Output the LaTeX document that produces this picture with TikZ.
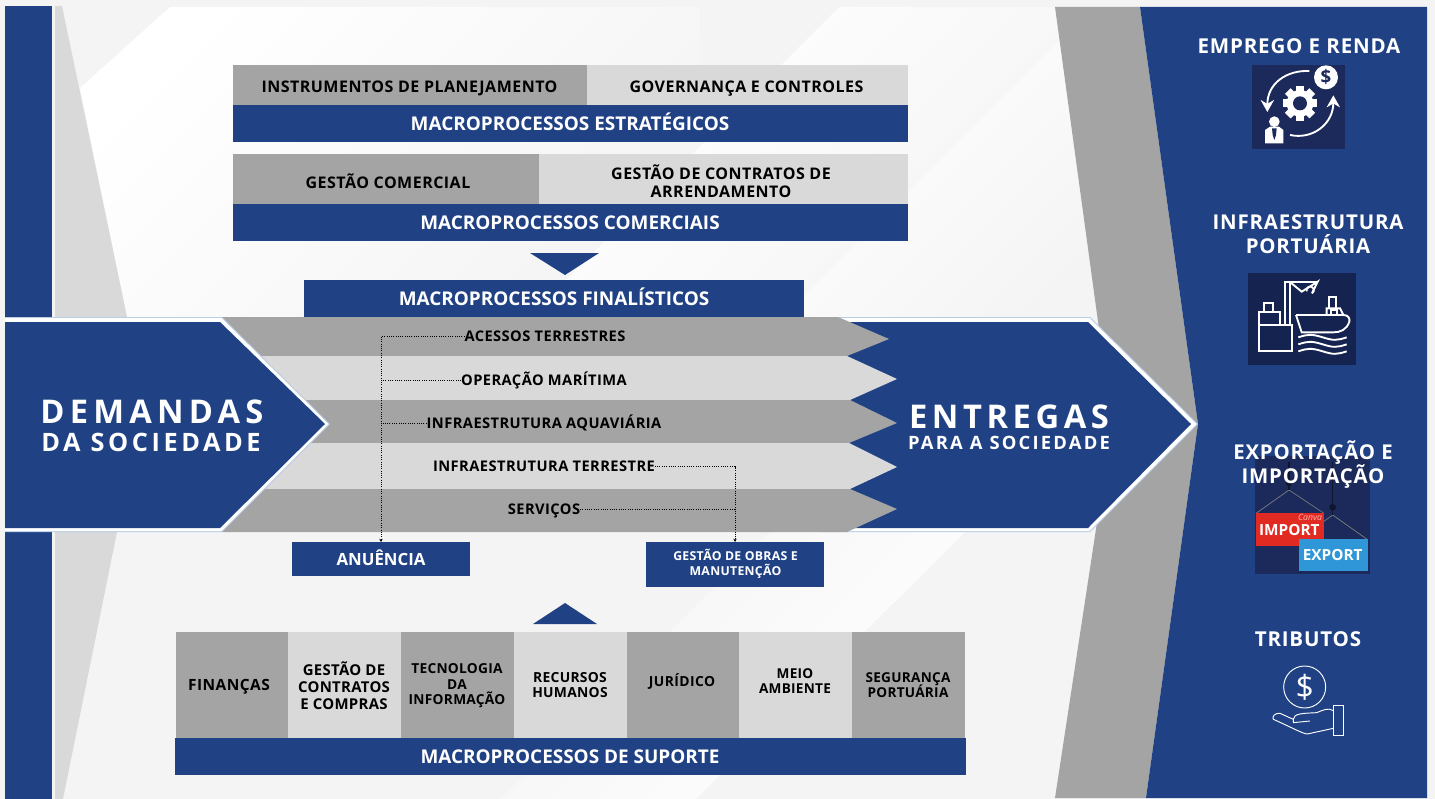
\documentclass[tikz,border=0pt]{standalone}
\usepackage{fontspec}
\setmainfont{Open Sans}
\usetikzlibrary{arrows.meta,calc}
\definecolor{navy}{HTML}{204284}
\definecolor{gA}{HTML}{A4A4A4}
\definecolor{gB}{HTML}{D9D9D9}
\definecolor{bgc}{HTML}{F4F4F4}
\definecolor{edgeb}{HTML}{B9CDE5}
\definecolor{iconA}{HTML}{1B2A5A}
\definecolor{iconB}{HTML}{152350}
\definecolor{redbox}{HTML}{E12A22}
\definecolor{bluebox}{HTML}{2F97D8}
\newcommand\fnt[2]{\fontsize{#1pt}{#1pt}\selectfont\addfontfeature{LetterSpace=#2}\bfseries\lineskiplimit=-20pt\relax}
\newcommand\bx[6]{% name x0 y0 x1 y1 style
  \pgfmathsetmacro\bw{(#4-#2)*0.75}\pgfmathsetmacro\bh{(#5-#3)*0.75}
  \node[#6,minimum width=\bw pt,minimum height=\bh pt] (#1) at ({(#2+#4)/2},{(#3+#5)/2}) {};}
\tikzset{
  x=0.75pt,y=-0.75pt,
  boxstyle/.style={inner sep=0pt,outer sep=0pt,rectangle},
  navybox/.style={boxstyle,fill=navy},
  darkbox/.style={boxstyle,fill=gA},
  lightbox/.style={boxstyle,fill=gB},
  lab/.style={inner sep=0pt,outer sep=0pt,align=center,text height=.714em,text depth=0pt,yshift=-1.1pt},
  mlab/.style={inner sep=0pt,outer sep=0pt,align=center},
  head/.style={lab,text=white,font=\fnt{14.2}{0},yshift=-0.5pt},
  dk/.style={lab,text=black,font=\fnt{12}{3}},
  strip/.style={lab,text=black,font=\fnt{11}{3},yshift=0.7pt},
  side/.style={text=white,font=\fnt{15.3}{4}},
  link/.style={black,line width=0.7pt,densely dotted},
  wire/.style={white,line width=1.4pt},
  thinwire/.style={white,line width=0.7pt},
  sheen/.style={left color=white,middle color=bgc,right color=bgc,shading angle=45},
}
\begin{document}
\begin{tikzpicture}
\useasboundingbox (0,0) rectangle (1435,799);
\fill[bgc] (0,0) rectangle (1435,799);
% sheens
\shade[sheen] (80,88)--(170,7)--(700,7)--(700,317)--(127,317)--cycle;
\shade[sheen] (694,152)--(839,7)--(1093,7)--(1093,317)--(529,317)--cycle;
\shade[sheen] (1093,7)--(1140,7)--(1140,317)--(783,317)--cycle;
\shade[left color=bgc,middle color=bgc,right color=white,shading angle=45] (500,799)--(770,532)--(965,532)--(696,799)--cycle;
% side structure
\fill[navy] (5,6) rectangle (52,799);
\fill[gB] (55,6)--(62,6)--(127,317)--(55,317)--cycle;
\fill[gB] (55,532)--(117,532)--(63,799)--(55,799)--cycle;
\fill[gA] (1055,7)--(1140,7)--(1198,424)--(1146,798)--(1055,798)--(1112,424)--cycle;
\fill[navy] (1140,7)--(1427,7)--(1427,798)--(1146,798)--(1198,424)--cycle;
% entregas chevron
\fill[edgeb] (820,317)--(1090,317)--(1198,424)--(1090,532)--(820,532)--cycle;
\fill[white] (820,318)--(1089.5,318)--(1196.5,424)--(1089.5,531)--(820,531)--cycle;
\fill[navy] (820,322)--(1088,322)--(1191,424)--(1088,528)--(820,528)--cycle;
% stripes
\fill[gA] (222,317)--(838,317)--(889,339)--(847,356)--(222,356)--cycle;
\fill[gB] (222,356)--(847,356)--(897,379)--(850,400)--(222,400)--cycle;
\fill[gA] (222,400)--(850,400)--(897,423)--(849,443)--(222,443)--cycle;
\fill[gB] (222,443)--(849,443)--(897,467)--(850,489)--(222,489)--cycle;
\fill[gA] (222,489)--(850,489)--(897,509)--(847,532)--(222,532)--cycle;
% demandas chevron
\fill[edgeb] (5,317)--(222,317)--(330,424)--(222,532)--(5,532)--cycle;
\fill[white] (5,318)--(221.5,318)--(328.5,424)--(221.5,531)--(5,531)--cycle;
\fill[navy] (5,322)--(220,322)--(325,424)--(220,528)--(5,528)--cycle;
% boxes
\bx{b1}{233}{65}{587}{105}{darkbox}
\bx{b2}{587}{65}{908}{105}{lightbox}
\bx{b3}{233}{105}{908}{142}{navybox}
\bx{b4}{233}{154}{539}{204}{darkbox}
\bx{b5}{539}{154}{908}{204}{lightbox}
\bx{b6}{233}{204}{908}{241}{navybox}
\bx{b7}{304}{280}{804}{317}{navybox}
\fill[navy] (530,253)--(599,253)--(565,275)--cycle;
\fill[navy] (533,624)--(597,624)--(565,603)--cycle;
\bx{anu}{292}{542}{470}{576}{navybox}
\bx{obras}{646}{542}{824}{587}{navybox}
\bx{c1}{176}{632}{288}{738}{darkbox}
\bx{c2}{288}{632}{401}{738}{lightbox}
\bx{c3}{401}{632}{514}{738}{darkbox}
\bx{c4}{514}{632}{627}{738}{lightbox}
\bx{c5}{627}{632}{739}{738}{darkbox}
\bx{c6}{739}{632}{852}{738}{lightbox}
\bx{c7}{852}{632}{965}{738}{darkbox}
\bx{c8}{175}{738}{966}{775}{navybox}
% box labels
\node[dk] (t1) at (409.5,86) {INSTRUMENTOS DE PLANEJAMENTO};
\node[dk] (t2) at (746.5,86) {GOVERNANÇA E CONTROLES};
\node[head] (t3) at (570,123.5) {MACROPROCESSOS ESTRATÉGICOS};
\node[dk] (t4) at (388,182) {GESTÃO COMERCIAL};
\node[mlab,font=\fnt{12}{3},text=black] (t5) at (721,181) {GESTÃO DE CONTRATOS DE\\[1.5pt]ARRENDAMENTO};
\node[head] (t6) at (570,222.5) {MACROPROCESSOS COMERCIAIS};
\node[head] (t7) at (554,298.5) {MACROPROCESSOS FINALÍSTICOS};
\node[strip] (acessos) at (545,336) {ACESSOS TERRESTRES};
\node[strip] (oper) at (544,380) {OPERAÇÃO MARÍTIMA};
\node[strip] (aqua) at (544,423) {INFRAESTRUTURA AQUAVIÁRIA};
\node[strip] (terr) at (544,466) {INFRAESTRUTURA TERRESTRE};
\node[strip] (serv) at (544,509) {SERVIÇOS};
\node[head,font=\fnt{12.6}{0},yshift=0.5pt] (tanu) at (381,559) {ANUÊNCIA};
\node[mlab,text=white,font=\fnt{9.2}{2.5}] (tobr) at (735.5,563.5) {GESTÃO DE OBRAS E\\[2pt]MANUTENÇÃO};
\node[dk,font=\fnt{11.6}{3}] (d1) at (229,684) {FINANÇAS};
\node[mlab,text=black,font=\fnt{11.2}{2}] (d2) at (344,686) {GESTÃO DE\\[1.5pt]CONTRATOS\\[1.5pt]E COMPRAS};
\node[mlab,text=black,font=\fnt{10.3}{2}] (d3) at (457,686) {TECNOLOGIA\\[1.3pt]DA\\[1.3pt]INFORMAÇÃO};
\node[mlab,text=black,font=\fnt{10.4}{2}] (d4) at (570,685) {RECURSOS\\[1pt]HUMANOS};
\node[dk,font=\fnt{10.4}{3}] (d5) at (682,680) {JURÍDICO};
\node[mlab,text=black,font=\fnt{10.2}{2}] (d6) at (795,681) {MEIO\\[1.5pt]AMBIENTE};
\node[mlab,text=black,font=\fnt{10.2}{2}] (d7) at (908,685) {SEGURANÇA\\[1pt]PORTUÁRIA};
\node[head] (d8) at (570,757) {MACROPROCESSOS DE SUPORTE};
% chevron labels
\node[lab,text=white,font=\fnt{24.5}{16},yshift=-4.5pt] (dem) at (152,411) {DEMANDAS};
\node[lab,text=white,font=\fnt{19}{14},yshift=-2.5pt] (dem2) at (151,442) {DA SOCIEDADE};
\node[lab,text=white,font=\fnt{24.5}{14},yshift=-4.1pt] (ent) at (1009,417) {ENTREGAS};
\node[lab,text=white,font=\fnt{13.8}{12},yshift=-1.2pt] (ent2) at (1009,442) {PARA A SOCIEDADE};
% connectors
\draw[link,-{Stealth[length=2.5pt,width=2.5pt]}] (acessos.west) -| (anu.north);
\draw[link] (oper.west) -- (oper.west -| anu.north);
\draw[link] (aqua.west) -- (aqua.west -| anu.north);
\draw[link,-{Stealth[length=2.5pt,width=2.5pt]}] (terr.east) -| (obras.north);
\draw[link] (serv.east) -- (serv.east -| obras.north);
% right panel icons
\begin{scope}[shift={(1180,20)},scale=1/3]
  \fill[iconA] (216,135) rectangle (495,386);
  \fill[white] (438,172) circle (36);
  \node[text=iconA,font=\fnt{14}{0},inner sep=0] (dollarA) at (438,172) {\$};
  \fill[white] (360,250) circle (40);
  \foreach \a in {0,45,...,315}{\fill[white,rotate around={\a:(360,250)}] (348,198) rectangle (372,225);}
  \fill[iconA] (360,250) circle (21);
  \draw[white,line width=1.4pt,-{Stealth[length=9pt,width=10pt]}] (388,153) .. controls (320,150) and (262,190) .. (262,276);
  \draw[white,line width=1.4pt,-{Stealth[length=9pt,width=10pt]}] (330,345) .. controls (400,360) and (460,310) .. (460,226);
  \fill[white] (283,305) circle (16);
  \fill[white] (255,370)--(255,330)--(270,320)--(297,320)--(310,330)--(310,370)--cycle;
  \fill[iconA] (276,325)--(290,325)--(288,345)--(283,360)--(278,345)--cycle;
  % port icon
  \fill[iconB] (204,759) rectangle (528,1035);
  \draw[wire] (316,915)--(316,785)--(413,785);
  \draw[wire] (331,915)--(331,787);
  \draw[wire] (331,787)--(365,815)--(413,785)--(396,820);
  \draw[wire] (396,820) arc[start angle=60,end angle=-200,radius=11];
  \draw[wire] (252,877)--(252,850)--(280,850)--(280,877);
  \draw[wire] (238,915)--(238,877)--(300,877)--(300,915);
  \draw[wire] (236,915)--(336,915)--(336,993)--(236,993)--cycle;
  \draw[wire] (348,885)--(490,885) .. controls (505,885) and (510,895) .. (508,905) .. controls (500,930) and (480,937) .. (460,937)--(365,937)--(348,885);
  \draw[wire] (440,885)--(440,865)--(480,865)--(490,885);
  \draw[wire] (448,865)--(448,832)--(468,832)--(468,865);
  \draw[wire] (452,870) rectangle (472,884);
  \foreach \yy in {952,973,994}{
    \draw[wire] (355,\yy) .. controls (385,\yy-10) and (395,\yy-10) .. (428,\yy) .. controls (460,\yy+10) and (470,\yy+10) .. (500,\yy);}
\end{scope}
\begin{scope}[shift={(1180,430)},scale=1/3]
  \fill[iconA] (225,78) rectangle (570,432);
  \draw[gray,line width=0.5pt] (228,250)--(327,180)--(432,250);
  \draw[gray,line width=0.5pt] (358,327)--(458,255)--(560,327);
  \draw[black!50!iconA,line width=0.8pt] (327,97)--(327,180);
  \draw[black!50!iconA,line width=0.8pt] (458,97)--(458,255);
  \fill[black!50!iconA] (327,160) circle (9);
  \fill[black!50!iconA] (458,232) circle (10);
  \fill[redbox] (227,250) rectangle (432,348);
  \node[text=white,font=\fnt{11.5}{0},inner sep=0] (imp) at (328,300) {IMPORT};
  \node[text=red!30!white,font=\itshape\fontsize{6.5}{6.5}\selectfont,inner sep=0] (canva) at (390,262) {Canva};
  \fill[bluebox] (356,327) rectangle (563,424);
  \node[text=white,font=\fnt{11.5}{0},inner sep=0] (exp) at (458,376) {EXPORT};
  \draw[thinwire] (374,771) circle (63);
  \node[text=white,font=\fontsize{24}{24}\selectfont,inner sep=0] (usd) at (374,771) {\$};
  \draw[thinwire] (460,827) rectangle (490,915);
  \draw[thinwire] (460,895)--(382,912) .. controls (370,912) and (330,890) .. (280,868) .. controls (275,860) and (285,848) .. (300,850) -- (340,868) .. controls (340,850) and (370,850) .. (410,848) .. controls (430,840) and (445,832) .. (460,842);
  \draw[thinwire] (340,868)--(340,878)--(390,873);
\end{scope}
% right panel labels
\node[lab,text=white,font=\fnt{15.4}{4},yshift=-0.7pt] (r1) at (1299,46) {EMPREGO E RENDA};
\node[mlab,side] (r2) at (1308,234) {INFRAESTRUTURA\\[3pt]PORTUÁRIA};
\node[mlab,side] (r3) at (1313,464.5) {EXPORTAÇÃO E\\[3pt]IMPORTAÇÃO};
\node[lab,text=white,font=\fnt{15.4}{4},yshift=-0.7pt] (r4) at (1308,639) {TRIBUTOS};
\end{tikzpicture}
\end{document}
